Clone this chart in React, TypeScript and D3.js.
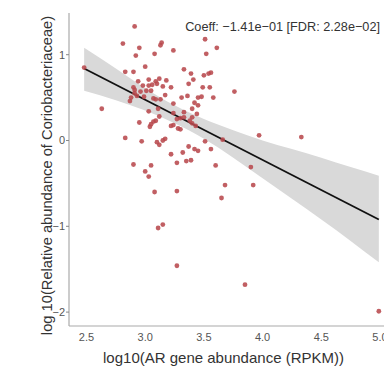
import React from "react";
import * as d3 from "d3";

const pointX = [2.91,2.81,3.14,3.13,3.51,3.61,2.95,2.92,3.08,3.24,3.52,2.48,2.83,2.90,3.00,3.33,3.39,3.50,3.54,3.56,2.94,3.03,3.09,3.12,3.18,3.10,3.06,3.03,2.98,3.15,3.22,3.37,3.41,3.49,3.55,3.76,2.90,2.91,2.96,3.01,3.05,2.91,2.93,2.88,2.87,2.99,3.07,3.09,3.13,3.17,3.31,3.36,3.45,3.48,3.58,3.42,3.45,3.24,2.63,3.03,3.11,3.24,3.33,3.33,3.40,3.44,3.40,3.30,3.12,3.27,2.95,3.04,3.05,3.07,3.09,3.22,3.24,3.28,3.30,3.38,3.40,3.43,2.83,2.97,3.10,3.12,3.15,3.17,3.51,3.66,3.97,4.33,2.90,3.00,3.03,3.05,3.08,3.22,3.27,3.27,3.32,3.35,3.37,3.39,3.42,3.45,3.56,3.60,3.68,3.65,3.90,3.92,3.11,3.15,3.27,3.85,4.99];
const pointY = [1.33,1.13,1.14,1.11,1.18,1.08,1.08,0.99,1.01,1.05,1.01,0.85,0.80,0.80,0.86,0.83,0.78,0.76,0.78,0.79,0.69,0.71,0.69,0.72,0.70,0.66,0.65,0.64,0.64,0.63,0.62,0.66,0.71,0.62,0.62,0.57,0.62,0.59,0.57,0.58,0.58,0.55,0.52,0.50,0.46,0.51,0.49,0.48,0.48,0.53,0.50,0.52,0.50,0.51,0.50,0.44,0.41,0.43,0.37,0.34,0.37,0.32,0.33,0.27,0.37,0.31,0.27,0.26,0.28,0.25,0.21,0.16,0.19,0.22,0.23,0.17,0.18,0.14,0.13,0.23,0.20,0.17,0.03,-0.01,-0.02,-0.05,0.00,0.02,-0.01,0.01,0.06,0.04,-0.28,-0.36,-0.42,-0.29,-0.60,-0.16,-0.26,-0.59,-0.14,-0.24,-0.07,-0.23,-0.10,-0.12,-0.10,-0.29,-0.52,-0.67,-0.31,-0.52,-1.02,-0.98,-1.46,-1.68,-1.99];

const fitX = [2.48, 4.99];
const fitY = [0.84, -0.92];

const bandX = [2.48, 2.75, 3.0, 3.25, 3.5, 3.75, 4.0, 4.25, 4.5, 4.75, 4.99];
const bandLow = [0.58, 0.47, 0.35, 0.2, 0.02, -0.2, -0.44, -0.68, -0.92, -1.17, -1.42];
const bandHigh = [1.08, 0.84, 0.61, 0.41, 0.25, 0.12, 0.0, -0.1, -0.2, -0.31, -0.41];

const xTicks = [2.5, 3.0, 3.5, 4.0, 4.5, 5.0];
const yTicks = [-2, -1, 0, 1];

const xLabel = "log10(AR gene abundance (RPKM))";
const yLabel = "log 10(Relative abundance of Coriobacteriaceae)";
const annotation = "Coeff: \u22121.41e\u221201 [FDR: 2.28e\u221202]";

export default function App() {
  const x = d3.scaleLinear().domain([2.5, 5]).range([86.5, 380]);
  const y = d3.scaleLinear().domain([0, 1]).range([140.5, 54.7]);
  const axisLeft = 69;
  const axisBottom = 326;
  const axisTop = 13;
  const font = "'Liberation Sans', Arial, sans-serif";

  const bandData = bandX.map((v, i) => ({ x: v, lo: bandLow[i], hi: bandHigh[i] }));
  const area = d3
    .area<{ x: number; lo: number; hi: number }>()
    .x((d) => x(d.x))
    .y0((d) => y(d.lo))
    .y1((d) => y(d.hi))
    .curve(d3.curveMonotoneX);
  const line = d3
    .line<number>()
    .x((d) => x(d))
    .y((_, i) => y(fitY[i]));

  const fmtX = d3.format(".1f");
  const fmtY = (v: number) => (v < 0 ? "\u2212" + Math.abs(v) : String(v));

  return (
    <svg
      width={384}
      height={371}
      style={{ position: "absolute", left: 0, top: 0, background: "#fff" }}
      fontFamily={font}
    >
      <path d={area(bandData) || ""} fill="#d9d9d9" />
      <path d={line(fitX) || ""} fill="none" stroke="#111" strokeWidth={1.8} />
      {pointX.map((v, i) => (
        <circle key={i} cx={x(v)} cy={y(pointY[i])} r={2.4} fill="#b8494d" fillOpacity={0.88} />
      ))}
      <line x1={axisLeft} x2={axisLeft} y1={axisTop} y2={axisBottom} stroke="#aaa" strokeWidth={1.2} />
      <line x1={axisLeft} x2={384} y1={axisBottom} y2={axisBottom} stroke="#aaa" strokeWidth={1.2} />
      {yTicks.map((t) => (
        <g key={t}>
          <line x1={axisLeft - 3} x2={axisLeft} y1={y(t)} y2={y(t)} stroke="#888" />
          <text x={axisLeft - 4} y={y(t)} dy="0.35em" textAnchor="end" fontSize={11} fill="#555">
            {fmtY(t)}
          </text>
        </g>
      ))}
      {xTicks.map((t) => (
        <text key={t} x={x(t)} y={axisBottom + 7} dy="0.71em" textAnchor="middle" fontSize={11} fill="#555">
          {fmtX(t)}
        </text>
      ))}
      <text x={223.5} y={358} dy="0.35em" textAnchor="middle" fontSize={15} fill="#333">
        {xLabel}
      </text>
      <text
        transform={`translate(47,175.5) rotate(-90)`}
        dy="0.35em"
        textAnchor="middle"
        fontSize={14.7}
        fill="#333"
      >
        {yLabel}
      </text>
      <text x={380} y={27} dy="0.35em" textAnchor="end" fontSize={12.7} fill="#333">
        {annotation}
      </text>
    </svg>
  );
}
